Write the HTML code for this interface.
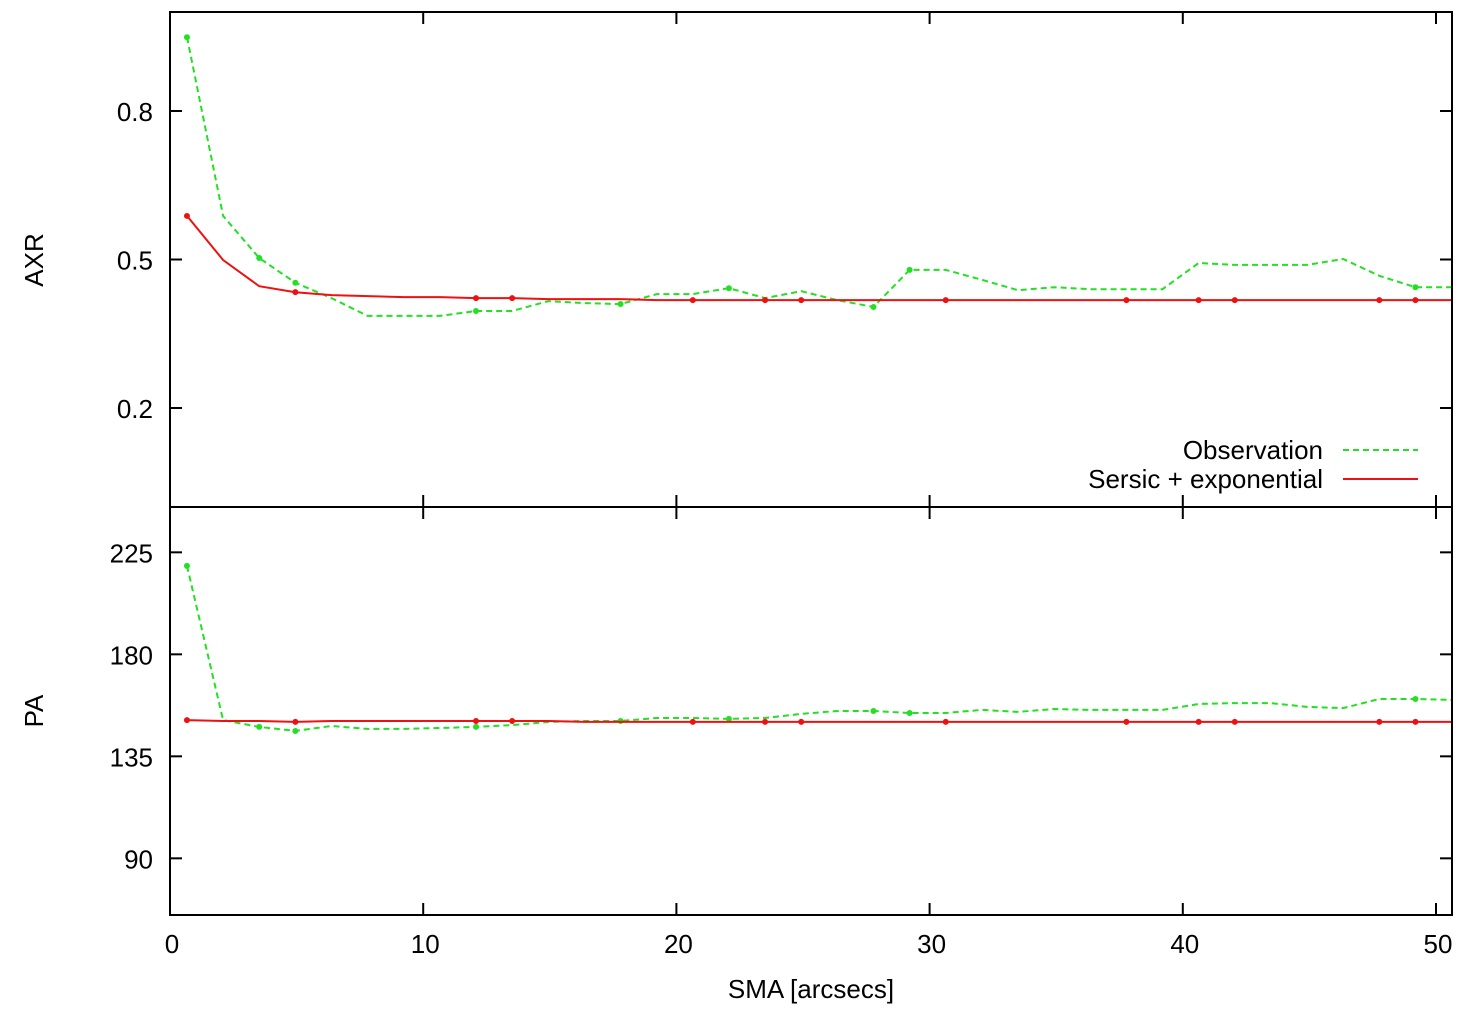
<!DOCTYPE html>
<html><head><meta charset="utf-8"><style>
body{margin:0;background:#fff;}
svg{display:block;font-family:"Liberation Sans",sans-serif;}
</style></head><body>
<svg id="chart" width="1475" height="1015"></svg>
<script>
const sma = [];
for (let i = 0; i < 36; i++) sma.push(+(0.67 + 1.427 * i).toFixed(3));
const axrObs = [0.949,0.588,0.503,0.453,0.422,0.386,0.386,0.386,0.396,0.396,0.416,0.412,0.410,0.430,0.430,0.442,0.422,0.436,0.418,0.404,0.479,0.479,0.459,0.438,0.444,0.440,0.440,0.440,0.493,0.489,0.489,0.489,0.501,0.467,0.444,0.444];
const axrFit = [0.588,0.499,0.446,0.434,0.428,0.426,0.424,0.424,0.422,0.422,0.420,0.420,0.420,0.418,0.418,0.418,0.418,0.418,0.418,0.418,0.418,0.418,0.418,0.418,0.418,0.418,0.418,0.418,0.418,0.418,0.418,0.418,0.418,0.418,0.418,0.418];
const paObs = [219.0,151.0,148.0,146.2,148.4,147.1,147.1,147.5,148.0,148.8,150.2,150.6,150.6,151.9,151.9,151.5,151.9,153.7,155.0,155.0,154.1,154.1,155.5,154.6,155.9,155.5,155.5,155.5,158.1,158.5,158.5,156.8,156.3,160.3,160.3,159.9];
const paFit = [151.0,150.6,150.6,150.2,150.6,150.6,150.6,150.6,150.6,150.6,150.6,150.2,150.2,150.2,150.2,150.2,150.2,150.2,150.2,150.2,150.2,150.2,150.2,150.2,150.2,150.2,150.2,150.2,150.2,150.2,150.2,150.2,150.2,150.2,150.2,150.2];
const obsMarks = [0,2,3,8,12,15,19,20,34];
const fitMarks = [0,3,8,9,14,16,17,21,26,28,29,33,34];
const xTicks = [0,10,20,30,40,50];
const axrTicks = [0.2,0.5,0.8];
const paTicks = [90,135,180,225];

const NS = "http://www.w3.org/2000/svg";
const svg = document.getElementById('chart');
const L = 170, R = 1452, T1 = 12, B1 = 507, T2 = 507, B2 = 915;
const xs = v => L + v * (1436 - 170) / 50;
const y1 = v => B1 - v * (B1 - T1) / 1.0;
const y2 = v => B2 - (v - 65) * (B2 - T2) / 180;
function mk(tag, attrs, parent) {
  const e = document.createElementNS(NS, tag);
  for (const k in attrs) e.setAttribute(k, attrs[k]);
  (parent || svg).appendChild(e);
  return e;
}
const defs = mk('defs', {});
const cp = mk('clipPath', {id: 'plotclip'}, defs);
mk('rect', {x: L, y: T1, width: R - L, height: B2 - T1}, cp);
function txt(s, x, y, anchor, name, rot) {
  const t = mk('text', {x: x, y: y, 'font-size': 26, 'text-anchor': anchor, fill: '#000'});
  if (rot) t.setAttribute('transform', 'rotate(-90 ' + x + ' ' + y + ')');
  t.textContent = s;
  
  
  return t;
}
xTicks.forEach(v => {
  const x = xs(v);
  [[T1, T1 + 12], [B1 - 12, B1 + 12], [B2 - 12, B2]].forEach(p => {
    const l = mk('line', {x1: x, x2: x, y1: p[0], y2: p[1], stroke: '#000', 'stroke-width': 2});
    
    
  });
  txt(String(v), x + 2, 953, 'middle', 'x-tick-label');
});
axrTicks.forEach(v => {
  const y = y1(v);
  mk('line', {x1: L, x2: L + 12, y1: y, y2: y, stroke: '#000', 'stroke-width': 2});
  mk('line', {x1: R - 12, x2: R, y1: y, y2: y, stroke: '#000', 'stroke-width': 2});
  txt(String(v), 153, y + 10, 'end', 'axr-tick-label');
});
paTicks.forEach(v => {
  const y = y2(v);
  mk('line', {x1: L, x2: L + 12, y1: y, y2: y, stroke: '#000', 'stroke-width': 2});
  mk('line', {x1: R - 12, x2: R, y1: y, y2: y, stroke: '#000', 'stroke-width': 2});
  txt(String(v), 153, y + 10, 'end', 'pa-tick-label');
});
const g = mk('g', {'clip-path': 'url(#plotclip)'});
function series(vals, yf, color, dash, marks, name) {
  const pts = vals.map((v, i) => xs(sma[i]).toFixed(1) + ',' + yf(v).toFixed(1)).join(' ');
  const p = mk('polyline', {points: pts, fill: 'none', stroke: color, 'stroke-width': 2, 'stroke-dasharray': dash}, g);
  
  
  marks.forEach(i => {
    const c = mk('circle', {cx: xs(sma[i]), cy: yf(vals[i]), r: 3, fill: color}, g);
    
    
  });
}
series(axrObs, y1, '#22e022', '6,4', obsMarks, 'axr-observation-line');
series(axrFit, y1, '#ee1111', 'none', fitMarks, 'axr-fit-line');
series(paObs, y2, '#22e022', '6,4', obsMarks, 'pa-observation-line');
series(paFit, y2, '#ee1111', 'none', fitMarks, 'pa-fit-line');
const f1 = mk('rect', {x: L, y: T1, width: R - L, height: B1 - T1, fill: 'none', stroke: '#000', 'stroke-width': 2});
 
const f2 = mk('rect', {x: L, y: T2, width: R - L, height: B2 - T2, fill: 'none', stroke: '#000', 'stroke-width': 2});
 
txt('AXR', 43, 260, 'middle', 'axr-axis-title', true);
txt('PA', 43, 711, 'middle', 'pa-axis-title', true);
txt('SMA [arcsecs]', 811, 998, 'middle', 'x-axis-title');
txt('Observation', 1323, 459, 'end', 'legend-observation-label');
mk('line', {x1: 1343, x2: 1418, y1: 450, y2: 450, stroke: '#22e022', 'stroke-width': 2, 'stroke-dasharray': '6,4'});
txt('Sersic + exponential', 1323, 488, 'end', 'legend-fit-label');
mk('line', {x1: 1343, x2: 1418, y1: 479, y2: 479, stroke: '#ee1111', 'stroke-width': 2});
</script>
</body></html>
